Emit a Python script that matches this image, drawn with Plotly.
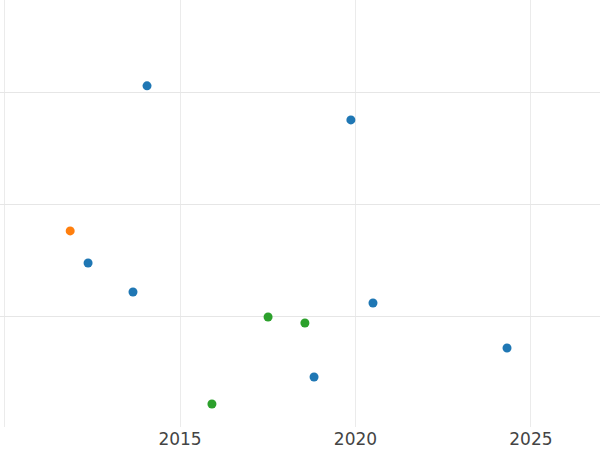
import plotly.graph_objects as go

blue_x = [2014.06, 2019.87, 2012.38, 2013.66, 2020.50, 2018.82, 2024.32]
blue_y = [30.63, 27.59, 14.82, 12.23, 11.25, 4.64, 7.23]
orange_x = [2011.87]
orange_y = [17.68]
green_x = [2017.51, 2018.56, 2015.91]
green_y = [10.0, 9.46, 2.23]

x_ticks = [2010, 2015, 2020, 2025]
x_tick_labels = ["", "2015", "2020", "2025"]

fig = go.Figure()
for xs, ys, color in [(blue_x, blue_y, "#1f77b4"), (orange_x, orange_y, "#ff7f0e"), (green_x, green_y, "#2ca02c")]:
    fig.add_trace(go.Scatter(x=xs, y=ys, mode="markers",
                             marker=dict(color=color, size=9), showlegend=False))

fig.update_layout(
    width=600, height=450,
    margin=dict(l=0, r=0, t=0, b=23),
    plot_bgcolor="white", paper_bgcolor="white",
    font=dict(family="DejaVu Sans", size=17, color="#444"),
    showlegend=False,
)
fig.update_xaxes(range=[2009.87, 2026.97], tickvals=x_ticks, ticktext=x_tick_labels,
                 showgrid=True, gridcolor="#ebebeb", gridwidth=1, zeroline=False,
                 showline=False, ticks="")
fig.update_yaxes(range=[0.18, 38.29], tickvals=[10, 20, 30], showticklabels=False,
                 showgrid=True, gridcolor="#e6e6e6", gridwidth=1, zeroline=False,
                 showline=False, ticks="")

fig.write_html("out.html", config={"displayModeBar": False},
               post_script="document.body.style.margin='0';")
